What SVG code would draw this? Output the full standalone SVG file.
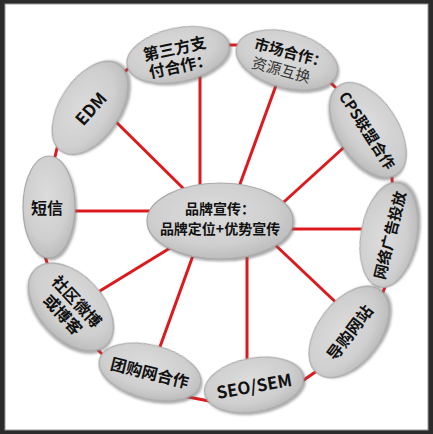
<svg xmlns="http://www.w3.org/2000/svg" width="433" height="434" viewBox="0 0 433 434">
<defs>
<radialGradient id="g" cx="0.45" cy="0.4" r="0.6">
<stop offset="0" stop-color="#dcdcdc"/>
<stop offset="0.7" stop-color="#cfcfcf"/>
<stop offset="1" stop-color="#bdbdbd"/>
</radialGradient>
<filter id="sh" x="-20%" y="-20%" width="140%" height="140%">
<feDropShadow dx="1.5" dy="2" stdDeviation="1.2" flood-color="#666" flood-opacity="0.55"/>
</filter>
</defs>
<style>
.e{fill:url(#g);stroke:#a9a9a9;stroke-width:1.2;filter:url(#sh)}
.c line{stroke:#dc1a1e;stroke-width:3;stroke-linecap:butt}
text{font-family:"Noto Sans CJK SC","Liberation Sans",sans-serif;font-weight:bold;fill:#111;text-anchor:middle;dominant-baseline:central}
.t14{font-size:14px}.t15{font-size:15px}.t16{font-size:16px}.t17{font-size:17px}
.reg{font-weight:normal;fill:#333}
</style>
<rect x="0" y="0" width="433" height="434" fill="#2b2b2b"/>
<rect x="5" y="4" width="423" height="426" fill="#ffffff" stroke="#9a9a9a" stroke-width="1"/>
<g id="connectors" class="c">
<line x1="105" y1="111" x2="195" y2="200"/>
<line x1="200" y1="70" x2="200" y2="195"/>
<line x1="278" y1="80" x2="236" y2="195"/>
<line x1="352" y1="140" x2="275" y2="210"/>
<line x1="60" y1="211" x2="160" y2="211"/>
<line x1="280" y1="229" x2="370" y2="229"/>
<line x1="90" y1="297" x2="175" y2="245"/>
<line x1="157" y1="355" x2="195" y2="250"/>
<line x1="247" y1="250" x2="247" y2="365"/>
<line x1="345" y1="311" x2="270" y2="240"/>
<line x1="222" y1="45" x2="246" y2="45"/>
<line x1="326" y1="78" x2="344" y2="96"/>
<line x1="391" y1="168" x2="393" y2="190"/>
<line x1="389" y1="277" x2="381" y2="297"/>
<line x1="298" y1="384" x2="324" y2="366"/>
<line x1="178" y1="395" x2="214" y2="402"/>
<line x1="86" y1="338" x2="108" y2="360"/>
<line x1="43" y1="250" x2="50" y2="272"/>
<line x1="59" y1="140" x2="53" y2="165"/>
<line x1="115" y1="79" x2="137" y2="62"/>
</g>
<g id="n-center" transform="translate(220,221)">
<ellipse class="e" rx="73" ry="38"/>
<text class="t14" x="0" y="-13">品牌宣传：</text>
<text class="t14" x="0" y="7">品牌定位+优势宣传</text>
</g>
<g id="n-pay" transform="translate(178,55) rotate(-12)">
<ellipse class="e" rx="52" ry="27"/>
<text class="t16" x="-2" y="-8">第三方支</text>
<text class="t16" x="0" y="10">付合作：</text>
</g>
<g id="n-market" transform="translate(287,60) rotate(15)">
<ellipse class="e" rx="52" ry="28"/>
<text class="t15" x="2" y="-9">市场合作：</text>
<text class="t15 reg" x="-3" y="10">资源互换</text>
</g>
<g id="n-cps" transform="translate(368,130) rotate(57)">
<ellipse class="e" rx="53" ry="30"/>
<text class="t15" x="0" y="0">CPS联盟合作</text>
</g>
<g id="n-webad" transform="translate(389,235) rotate(-80)">
<ellipse class="e" rx="53" ry="28"/>
<text class="t15" x="0" y="0" transform="rotate(4)">网络广告投放</text>
</g>
<g id="n-guide" transform="translate(349,332) rotate(-53)">
<ellipse class="e" rx="52" ry="31"/>
<text class="t16" x="0" y="0">导购网站</text>
</g>
<g id="n-seo" transform="translate(254,385) rotate(-10)">
<ellipse class="e" rx="50" ry="27"/>
<text class="t17" x="0" y="0">SEO/SEM</text>
</g>
<g id="n-group" transform="translate(150,372) rotate(14)">
<ellipse class="e" rx="52" ry="27"/>
<text class="t16" x="0" y="0">团购网合作</text>
</g>
<g id="n-community" transform="translate(71,307) rotate(47)">
<ellipse class="e" rx="52" ry="32"/>
<text class="t16" x="0" y="-9">社区微博</text>
<text class="t16" x="0" y="10">或博客</text>
</g>
<g id="n-sms" transform="translate(49,207)">
<ellipse class="e" rx="26" ry="51"/>
<text class="t16" x="-2" y="0">短信</text>
</g>
<g id="n-edm" transform="translate(90,108) rotate(-57)">
<ellipse class="e" rx="52" ry="30"/>
<text class="t17" x="0" y="0" transform="rotate(9)">EDM</text>
</g>
</svg>
